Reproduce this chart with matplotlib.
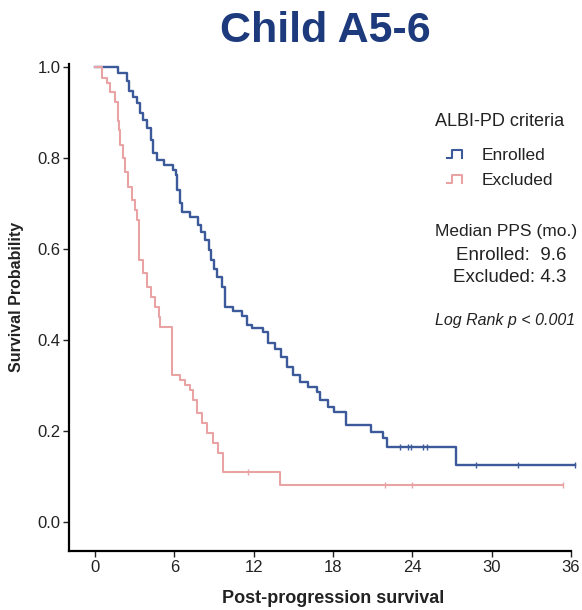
import numpy as np
import matplotlib
matplotlib.use("Agg")
import matplotlib.pyplot as plt
from matplotlib.lines import Line2D
from matplotlib.legend_handler import HandlerBase

plt.rcParams["font.family"] = ["Liberation Sans", "DejaVu Sans"]

# Kaplan-Meier steps (months, survival after each drop)
enr_t = [1.7, 2.4, 2.6, 2.9, 3.2, 3.4, 3.6, 3.9, 4.2, 4.4, 4.7, 5.2, 5.9, 6.1, 6.2,
         6.4, 6.6, 7.2, 7.8, 8.0, 8.3, 8.6, 8.8, 9.0, 9.2, 9.6, 9.8, 10.4, 11.1, 11.5,
         11.9, 12.7, 13.1, 13.6, 14.1, 14.5, 15.0, 15.5, 16.1, 16.8, 17.0, 17.6, 18.1,
         19.0, 20.9, 21.8, 22.1, 27.3]
enr_s = [0.985, 0.969, 0.947, 0.932, 0.919, 0.899, 0.882, 0.864, 0.838, 0.809, 0.794,
         0.783, 0.772, 0.761, 0.728, 0.700, 0.680, 0.669, 0.652, 0.636, 0.618, 0.596,
         0.575, 0.555, 0.537, 0.515, 0.471, 0.462, 0.452, 0.432, 0.425, 0.417, 0.393,
         0.380, 0.362, 0.340, 0.322, 0.307, 0.296, 0.285, 0.268, 0.252, 0.241, 0.213,
         0.197, 0.184, 0.165, 0.125]
enr_cens = [23.05, 23.7, 23.9, 24.8, 25.1, 28.8, 32.0, 36.3]
enr_end = 36.3

exc_t = [0.5, 0.9, 1.1, 1.5, 1.7, 1.8, 1.9, 2.1, 2.3, 2.5, 2.8, 3.0, 3.2, 3.35, 3.6,
         3.9, 4.2, 4.5, 4.8, 4.9, 5.8, 6.4, 6.8, 7.2, 7.4, 7.7, 8.1, 8.5, 8.9, 9.3,
         9.7, 14.0]
exc_s = [0.974, 0.963, 0.943, 0.921, 0.88, 0.86, 0.827, 0.798, 0.768, 0.735, 0.706,
         0.684, 0.662, 0.575, 0.546, 0.515, 0.493, 0.471, 0.450, 0.428, 0.322, 0.311,
         0.300, 0.289, 0.268, 0.239, 0.217, 0.195, 0.173, 0.151, 0.110, 0.081]
exc_cens = [11.6, 21.9, 24.0, 35.4]
exc_end = 35.4

groups = ["Enrolled", "Excluded"]
medians = [9.6, 4.3]

BLUE, RED, NAVY, TXT = "#3c5a9a", "#e9a3a5", "#1d3b7c", "#222222"
W, H = 582, 610


class StepHandler(HandlerBase):
    def create_artists(self, legend, orig_handle, xdescent, ydescent,
                       width, height, fontsize, trans):
        x0, y0 = -xdescent, -ydescent
        xs = x0 + width * np.array([0.0, 0.3, 0.3, 0.85, 0.85])
        ys = y0 + height * np.array([0.15, 0.15, 0.85, 0.85, 0.15])
        ln = Line2D(xs, ys, color=orig_handle.get_color(), lw=1.5, transform=trans)
        return [ln]


def km_line(ax, t, s, cens, end, color, lw):
    tt = np.concatenate([[0], t, [end]])
    ss = np.concatenate([[1.0], s, [s[-1]]])
    ax.step(tt, ss, where="post", color=color, lw=lw, clip_on=False)
    idx = np.searchsorted(tt, cens, side="right") - 1
    ax.plot(cens, ss[idx], "|", color=color, ms=5, mew=1.0, clip_on=False)
    return Line2D([], [], color=color)


def ftext(px, py, s, **kw):
    fig.text(px / W, 1 - py / H, s, ha="center", va="center", color=TXT, **kw)


fig = plt.figure(figsize=(W / 100, H / 100), dpi=100)
ax = fig.add_axes([69 / W, 0.0967, 502 / W, 0.798])

h1 = km_line(ax, enr_t, enr_s, enr_cens, enr_end, BLUE, 1.7)
h2 = km_line(ax, exc_t, exc_s, exc_cens, exc_end, RED, 1.5)

ax.set_xlim(-1.97, 36)
ax.set_ylim(-0.064, 1.005)
ax.set_xticks(range(0, 37, 6))
ax.set_yticks(np.arange(0, 1.01, 0.2))
ax.set_yticklabels([f"{v:.1f}" for v in np.arange(0, 1.01, 0.2)])
for sp in ["top", "right"]:
    ax.spines[sp].set_visible(False)
for sp in ["left", "bottom"]:
    ax.spines[sp].set_linewidth(1.6)
ax.tick_params(direction="out", length=4, width=1, labelsize=12, colors=TXT)
ax.tick_params(axis="x", pad=2.5)
ax.tick_params(axis="y", pad=2)

ax.set_xlabel("Post-progression survival", fontsize=13, fontweight="bold", color=TXT)
ax.xaxis.set_label_coords((333 - 69) / 502, (551 - 590) / 487)
ax.set_ylabel("Survival Probability", fontsize=11.5, fontweight="bold", color=TXT)
ax.yaxis.set_label_coords((24 - 69) / 502, (551 - 297) / 487)

fig.text(325 / W, 1 - 31 / H, "Child A5-6", ha="center", va="center",
         fontsize=31, fontweight="bold", color=NAVY)

ftext(500, 122, "ALBI-PD criteria", fontsize=13)
leg = ax.legend([h1, h2], groups, frameon=False,
                loc="upper center", bbox_to_anchor=(500 / W, 1 - 136 / H),
                bbox_transform=fig.transFigure, fontsize=12.5,
                handler_map={Line2D: StepHandler()}, handlelength=1.0,
                handletextpad=1.0, labelspacing=0.55, borderpad=0.2)
for t in leg.get_texts():
    t.set_color(TXT)

ftext(506, 232, "Median PPS (mo.)", fontsize=12.5)
ftext(511, 255, f"{groups[0]}:  {medians[0]}", fontsize=13.5)
ftext(510, 278, f"{groups[1]}: {medians[1]}", fontsize=13.5)
ftext(505, 321, "Log Rank p < 0.001", fontsize=11.5, style="italic")

fig.savefig("out.png", dpi=100)
